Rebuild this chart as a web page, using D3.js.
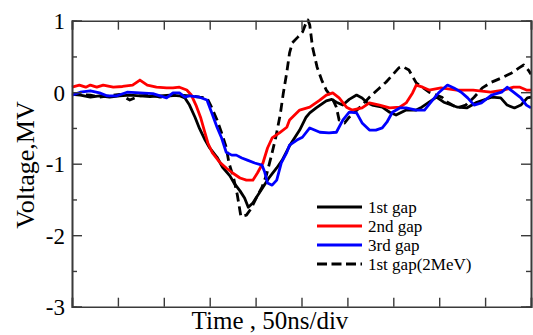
<!DOCTYPE html>
<html>
<head>
<meta charset="utf-8">
<script src="https://cdn.jsdelivr.net/npm/d3@7"></script>
<style>
  html, body { margin: 0; padding: 0; background: #fff; }
  svg { display: block; }
  text { font-family: "Liberation Serif", "DejaVu Serif", serif; fill: #000; }
</style>
</head>
<body>
<svg id="chart" width="533" height="335"></svg>
<script>
// Time in ns (50 ns per division), voltage in MV
const gap1T = [0,9,20,30,41,52,63,74,85,96,107,117,123,128,134,139,145,150,158,164,172,177,183,188,192,197,201,208,215,223,229,237,248,255,259,266,277,283,288,295,302,310,316,322,327,338,346,353,364,375,381,389,397,405,420,430,441,457,467,474,482,489,496,500];
const gap1V = [-0.03,-0.04,-0.07,-0.05,-0.07,-0.05,-0.04,-0.05,-0.06,-0.05,-0.04,-0.05,-0.08,-0.18,-0.35,-0.51,-0.67,-0.78,-0.91,-1.05,-1.17,-1.28,-1.38,-1.48,-1.61,-1.55,-1.47,-1.33,-1.19,-1.06,-0.95,-0.75,-0.53,-0.35,-0.29,-0.22,-0.12,-0.10,-0.14,-0.18,-0.10,-0.04,-0.08,-0.15,-0.18,-0.21,-0.28,-0.32,-0.25,-0.25,-0.21,-0.14,-0.07,-0.14,-0.21,-0.22,-0.14,-0.07,-0.08,-0.18,-0.22,-0.18,-0.08,-0.07];

const gap2T = [0,8,15,20,27,34,45,55,66,74,82,92,103,110,117,125,130,135,140,144,148,153,161,168,175,183,190,197,202,208,213,218,226,234,237,248,259,270,277,284,291,299,305,316,324,335,346,357,364,371,375,382,389,402,419,437,456,470,481,488,495,500];
const gap2V = [0.07,0.10,0.07,0.10,0.07,0.10,0.07,0.08,0.10,0.17,0.10,0.07,0.06,0.06,0.07,0.03,-0.04,-0.18,-0.35,-0.53,-0.71,-0.85,-0.98,-1.06,-1.13,-1.20,-1.23,-1.23,-1.13,-0.99,-0.78,-0.64,-0.57,-0.49,-0.39,-0.25,-0.21,-0.11,-0.04,-0.01,-0.08,-0.21,-0.25,-0.22,-0.15,-0.18,-0.22,-0.21,-0.15,-0.01,0.10,0.07,0.03,0.06,0.03,0.03,0.00,0.03,0.07,0.07,0.03,0.03];

const gap3T = [0,9,20,30,38,49,60,74,88,103,110,117,123,128,139,147,152,158,163,168,174,179,185,191,199,207,210,213,218,223,228,234,237,245,251,259,270,280,288,295,302,310,316,324,331,338,343,349,357,364,375,384,391,400,409,416,424,431,438,446,457,468,474,481,489,495,500];
const gap3V = [-0.04,0.00,0.02,-0.01,-0.05,-0.05,0.00,-0.01,-0.02,-0.08,-0.01,-0.01,-0.07,-0.05,-0.07,-0.11,-0.28,-0.49,-0.64,-0.84,-0.88,-0.88,-0.92,-0.95,-0.99,-1.02,-1.12,-1.27,-1.30,-1.23,-0.99,-0.84,-0.74,-0.67,-0.63,-0.50,-0.56,-0.57,-0.56,-0.39,-0.28,-0.29,-0.43,-0.53,-0.53,-0.50,-0.42,-0.28,-0.22,-0.22,-0.25,-0.25,-0.14,0.00,0.10,0.06,0.00,-0.08,-0.18,-0.15,-0.04,0.00,0.07,0.00,-0.08,-0.18,-0.22];

const gap1MeVT = [0,20,30,41,52,63,74,85,96,107,117,128,139,147,152,158,163,168,171,176,180,184,190,195,201,207,212,217,222,227,230,234,237,240,246,251,255,257,259,262,267,272,277,283,288,291,297,302,308,316,324,335,342,349,356,360,367,375,389,403,409,420,429,438,447,457,468,479,487,492,497,500];
const gap1MeVV = [-0.03,-0.04,-0.07,-0.05,-0.03,-0.11,-0.05,-0.04,-0.07,-0.05,-0.04,-0.05,-0.07,-0.08,-0.21,-0.39,-0.57,-0.77,-0.99,-1.20,-1.43,-1.74,-1.72,-1.63,-1.47,-1.33,-1.15,-0.90,-0.63,-0.30,-0.03,0.28,0.55,0.69,0.77,0.84,0.97,1.01,0.94,0.63,0.35,0.17,0.03,-0.07,-0.21,-0.39,-0.43,-0.35,-0.28,-0.18,-0.07,0.06,0.14,0.24,0.34,0.36,0.31,0.13,0.00,-0.07,-0.14,-0.22,-0.18,-0.07,0.06,0.14,0.20,0.27,0.34,0.38,0.31,0.25];

const seriesNames = ["1st gap", "2nd gap", "3rd gap", "1st gap(2MeV)"];
const seriesColors = ["#000000", "#ff0000", "#0000ff", "#000000"];
const seriesDash = [null, null, null, "9,5"];
const seriesT = [gap1T, gap2T, gap3T, gap1MeVT];
const seriesV = [gap1V, gap2V, gap3V, gap1MeVV];

const yTickValues = [1, 0, -1, -2, -3];
const yMinorValues = [0.5, -0.5, -1.5, -2.5];
const xTickValues = d3.range(0, 501, 50);
const xTitle = "Time , 50ns/div";
const yTitle = "Voltage,MV";

const svg = d3.select("#chart");
const L = 72, R = 531, T = 20.7, B = 306.7;
const x = d3.scaleLinear().domain([0, 500]).range([L, R]);
const y = d3.scaleLinear().domain([-3, 1]).range([B, T]);

const axisColor = "#3a3a3a";
const serif = '"Liberation Serif", "DejaVu Serif", serif';

// data lines
const line = d3.line().x((d) => x(d[0])).y((d) => y(d[1]));
const order = [3, 0, 1, 2];
order.forEach((i) => {
  const pts = seriesT[i].map((t, k) => [t, seriesV[i][k]]);
  svg.append("path")
    .datum(pts)
    .attr("d", line)
    .attr("fill", "none")
    .attr("stroke", seriesColors[i])
    .attr("stroke-width", 2.8)
    .attr("stroke-linejoin", "round")
    .attr("stroke-dasharray", seriesDash[i]);
});

// axes
const axL = svg.append("g").attr("transform", `translate(${L},0)`)
  .call(d3.axisLeft(y).tickValues(yTickValues).tickSize(-10).tickFormat((d) => String(d)).tickPadding(7));
const axLm = svg.append("g").attr("transform", `translate(${L},0)`)
  .call(d3.axisLeft(y).tickValues(yMinorValues).tickSize(-5).tickFormat(""));
const axR = svg.append("g").attr("transform", `translate(${R},0)`)
  .call(d3.axisRight(y).tickValues(yTickValues).tickSize(-10).tickFormat(""));
const axRm = svg.append("g").attr("transform", `translate(${R},0)`)
  .call(d3.axisRight(y).tickValues(yMinorValues).tickSize(-5).tickFormat(""));
const axB = svg.append("g").attr("transform", `translate(0,${B})`)
  .call(d3.axisBottom(x).tickValues(xTickValues).tickSize(-9).tickFormat(""));
const axT = svg.append("g").attr("transform", `translate(0,${T})`)
  .call(d3.axisTop(x).tickValues(xTickValues).tickSize(-9).tickFormat(""));

[axL, axLm, axR, axRm, axB, axT].forEach((g) => {
  g.attr("font-family", null).attr("font-size", null);
  g.selectAll(".domain").attr("stroke", axisColor).attr("stroke-width", 1.6);
  g.selectAll(".tick line").attr("stroke", axisColor).attr("stroke-width", 1.4);
});
axL.selectAll(".tick text")
  .style("font-family", serif)
  .style("font-size", "23px")
  .attr("fill", "#000")
  .attr("dy", "0.34em");

// axis titles
svg.append("text")
  .attr("transform", "translate(34,165) rotate(-90)")
  .attr("text-anchor", "middle")
  .style("font-family", serif)
  .style("font-size", "26px")
  .text(yTitle);
svg.append("text")
  .attr("x", 270).attr("y", 329)
  .attr("text-anchor", "middle")
  .style("font-family", serif)
  .style("font-size", "25px")
  .text(xTitle);

// legend
const legY = [207, 226, 245, 264];
seriesNames.forEach((name, i) => {
  const g = svg.append("g");
  g.append("line")
    .attr("x1", 317).attr("x2", 362)
    .attr("y1", legY[i]).attr("y2", legY[i])
    .attr("stroke", seriesColors[i])
    .attr("stroke-width", 2.8)
    .attr("stroke-dasharray", seriesDash[i] ? "10,4.5" : null);
  g.append("text")
    .attr("x", 368).attr("y", legY[i])
    .attr("dy", "0.33em")
    .style("font-family", serif)
    .style("font-size", "17px")
    .text(name);
});
</script>
</body>
</html>
